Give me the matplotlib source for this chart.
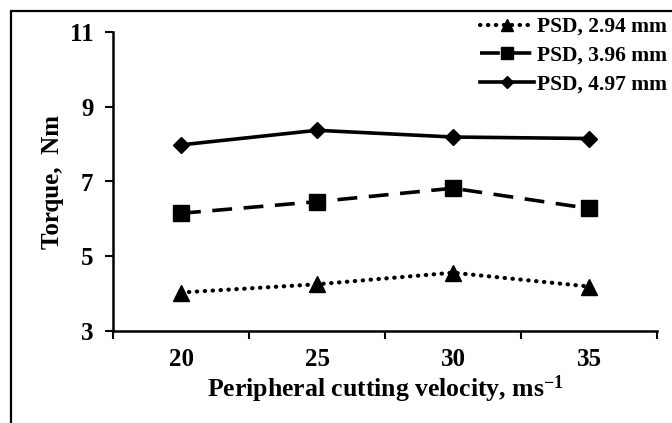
import matplotlib
matplotlib.use("Agg")
import matplotlib.pyplot as plt
from matplotlib.patches import Rectangle
import numpy as np

categories = ["20", "25", "30", "35"]
psd_294 = [4.03, 4.25, 4.56, 4.19]
psd_396 = [6.15, 6.46, 6.82, 6.28]
psd_497 = [7.98, 8.37, 8.19, 8.15]
labels = ["PSD, 2.94 mm", "PSD, 3.96 mm", "PSD, 4.97 mm"]
yticks = [3, 5, 7, 9, 11]

plt.rcParams['font.family'] = ['Liberation Serif', 'DejaVu Serif']
plt.rcParams['font.weight'] = 'bold'
plt.rcParams['mathtext.fontset'] = 'custom'
plt.rcParams['mathtext.rm'] = 'Liberation Serif:bold'
plt.rcParams['mathtext.bf'] = 'Liberation Serif:bold'
plt.rcParams['mathtext.it'] = 'Liberation Serif:bold'

W, H = 672, 423
fig = plt.figure(figsize=(W/100, H/100), dpi=100)
ax = fig.add_axes([113/W, 1-331/H, (657-113)/W, (331-32)/H])

x = np.arange(len(categories))
l1, = ax.plot(x, psd_294, color='black', lw=3.0, linestyle=(0, (0.1, 1.8)),
              dash_capstyle='round', marker='^', ms=11, label=labels[0])
l2, = ax.plot(x, psd_396, color='black', lw=2.6, linestyle=(0, (5.5, 3.2)),
              marker='s', ms=11, label=labels[1])
l3, = ax.plot(x, psd_497, color='black', lw=2.6, linestyle='-',
              marker='D', ms=8, label=labels[2])

ax.set_xlim(-0.5, len(categories) - 0.5)
ax.set_ylim(3, 11)
ax.set_yticks(yticks)
ax.set_yticklabels([str(v) for v in yticks], fontsize=18, fontweight='bold')
ax.set_xticks(x)
ax.set_xticklabels(categories, fontsize=18, fontweight='bold')
ax.set_xticks(np.arange(-0.5, len(categories)), minor=True)
ax.tick_params(axis='x', which='major', length=0, pad=12)
ax.tick_params(axis='x', which='minor', length=6, width=1.5, direction='out')
ax.tick_params(axis='y', length=6, width=1.5, direction='out', pad=8)
for s in ['top', 'right']:
    ax.spines[s].set_visible(False)
for s in ['left', 'bottom']:
    ax.spines[s].set_linewidth(1.8)

ax.set_xlabel("Peripheral cutting velocity, ms$^{-1}$", fontsize=18.5, fontweight='bold', labelpad=2)
ax.set_ylabel("Torque,  Nm", fontsize=18, fontweight='bold', labelpad=4)

leg = fig.legend(handles=[l1, l2, l3], loc='upper left', bbox_to_anchor=(480/W, 1-17/H),
                 frameon=False, fontsize=15.5, handlelength=2.5, handletextpad=0.15,
                 labelspacing=0.4, borderaxespad=0, borderpad=0, markerscale=0.8)
for t in leg.get_texts():
    t.set_fontweight('bold')

rect = Rectangle((11/W, -0.1), 1.2, 1 - 11/H + 0.1, transform=fig.transFigure,
                 fill=False, edgecolor='black', lw=1.6, clip_on=False)
fig.patches.append(rect)

fig.savefig("out.png", dpi=100)
